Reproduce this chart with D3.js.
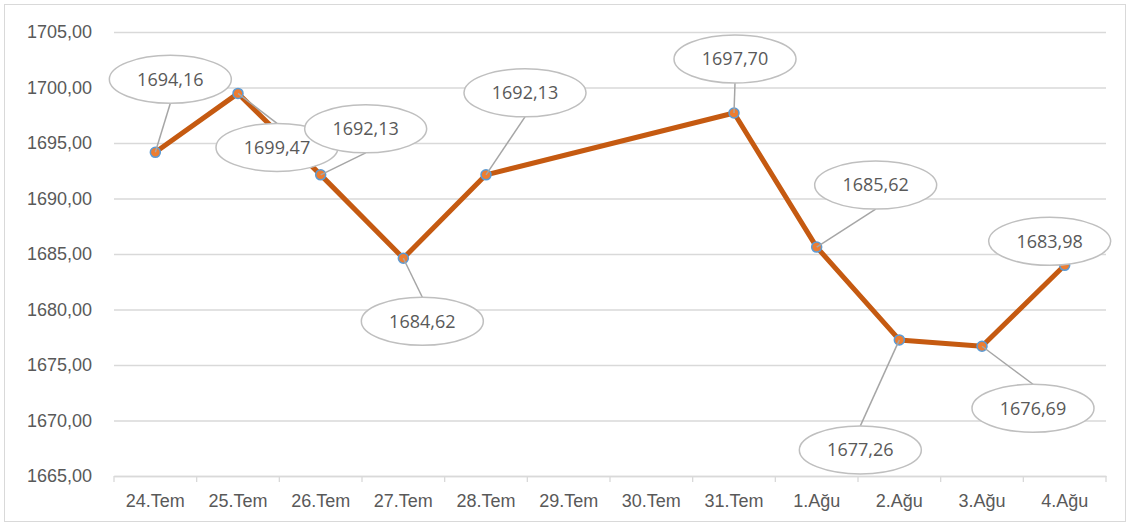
<!DOCTYPE html>
<html>
<head>
<meta charset="utf-8">
<script src="https://cdn.jsdelivr.net/npm/d3@7"></script>
<style>
  body { margin: 0; background: #fff; }
  svg { display: block; font-family: 'Open Sans', 'Noto Sans', sans-serif; }
  .tick text { fill: #595959; font-size: 18px; }
</style>
</head>
<body>
<svg id="chart" width="1131" height="527"></svg>
<script>
const categories = ['24.Tem', '25.Tem', '26.Tem', '27.Tem', '28.Tem', '29.Tem', '30.Tem',
	'31.Tem', '1.Ağu', '2.Ağu', '3.Ağu', '4.Ağu'];
const values = [1694.16, 1699.47, 1692.13, 1684.62, 1692.13, null, null,
	1697.70, 1685.62, 1677.26, 1676.69, 1683.98];
// callout text as shown on the chart (Excel-style, some labels don't match their point)
const labelTexts = ['1694,16', '1699,47', '1692,13', '1684,62', '1692,13', null, null,
	'1697,70', '1685,62', '1677,26', '1676,69', '1683,98'];
const yTicks = [1665, 1670, 1675, 1680, 1685, 1690, 1695, 1700, 1705];

// layout: callout offset from its point, in px
const LABEL_OFFSETS = [[15, -73], [39, 54], [45, -46], [19, 63], [39, -82], null, null,
	[1, -54], [59, -62], [-39, 110], [51, 62], [-15, -24]];

const MARGIN = { top: 32, right: 25, bottom: 51, left: 114 };
const SVG_WIDTH = 1131;
const SVG_HEIGHT = 527;
const WIDTH = SVG_WIDTH - MARGIN.left - MARGIN.right;
const HEIGHT = SVG_HEIGHT - MARGIN.top - MARGIN.bottom;

const trLocale = d3.formatLocale({ decimal: ',', thousands: '.', grouping: [3], currency: ['', ' ₺'] });
const fmt = trLocale.format('.2f');

const x = d3.scaleBand().domain(categories).range([0, WIDTH]);
const y = d3.scaleLinear().domain([1665, 1705]).range([HEIGHT, 0]);

const root = d3.select('#chart');

// chart border
root.append('rect')
	.attr('x', 4.5).attr('y', 4.5)
	.attr('width', SVG_WIDTH - 10).attr('height', SVG_HEIGHT - 10)
	.attr('fill', '#fff')
	.attr('stroke', '#d9d9d9');

const svg = root.append('g')
	.attr('transform', 'translate(' + MARGIN.left + ', ' + MARGIN.top + ')');

// Y grid + labels
const yAxis = svg.append('g')
	.call(d3.axisLeft(y).tickValues(yTicks).tickSize(-WIDTH).tickPadding(22).tickFormat(fmt));
yAxis.select('.domain').remove();
yAxis.selectAll('.tick line').attr('stroke', '#d9d9d9').attr('stroke-width', 1.3);

// X axis: labels at band centres, tick marks at band edges
const xAxis = svg.append('g')
	.attr('transform', 'translate(0, ' + HEIGHT + ')')
	.call(d3.axisBottom(x).tickSize(0).tickPadding(18));
xAxis.select('.domain').attr('stroke', '#d9d9d9').attr('stroke-width', 1.3);

const edges = categories.map(c => x(c)).concat([WIDTH]);
svg.append('g')
	.selectAll('line')
	.data(edges)
	.enter()
	.append('line')
		.attr('x1', d => d).attr('x2', d => d)
		.attr('y1', HEIGHT).attr('y2', HEIGHT + 6)
		.attr('stroke', '#d9d9d9')
		.attr('stroke-width', 1.3);

const points = categories
	.map((c, i) => ({ cat: c, value: values[i], text: labelTexts[i], off: LABEL_OFFSETS[i] }))
	.filter(d => d.value !== null);

// series line (gaps bridged)
svg.append('path')
	.datum(points)
	.attr('fill', 'none')
	.attr('stroke', '#c55a11')
	.attr('stroke-width', 5)
	.attr('stroke-linejoin', 'round')
	.attr('d', d3.line()
		.x(d => x(d.cat) + x.bandwidth() / 2)
		.y(d => y(d.value)));

svg.selectAll('.marker')
	.data(points)
	.enter()
	.append('circle')
		.attr('class', 'marker')
		.attr('r', 5)
		.attr('cx', d => x(d.cat) + x.bandwidth() / 2)
		.attr('cy', d => y(d.value))
		.attr('fill', '#ed7d31')
		.attr('stroke', '#5b9bd5')
		.attr('stroke-width', 1.5);

// callouts
const RX = 61, RY = 24;
points.forEach(d => {
	const px = x(d.cat) + x.bandwidth() / 2;
	const py = y(d.value);
	const cx = px + d.off[0];
	const cy = py + d.off[1];
	const g = svg.append('g').attr('class', 'callout');

	if (Math.abs(d.off[1]) > RY + 4) {
		const ey = d.off[1] < 0 ? cy + RY : cy - RY;
		g.append('line')
			.attr('x1', px).attr('y1', py)
			.attr('x2', cx).attr('y2', ey)
			.attr('stroke', '#a6a6a6')
			.attr('stroke-width', 1.5);
	}

	g.append('ellipse')
		.attr('cx', cx).attr('cy', cy)
		.attr('rx', RX).attr('ry', RY)
		.attr('fill', '#fff')
		.attr('stroke', '#bfbfbf')
		.attr('stroke-width', 1.5);

	g.append('text')
		.attr('x', cx).attr('y', cy)
		.attr('dy', '.35em')
		.attr('text-anchor', 'middle')
		.attr('fill', '#595959')
		.style('font-size', '18px')
		.text(d.text);
});
</script>
</body>
</html>
